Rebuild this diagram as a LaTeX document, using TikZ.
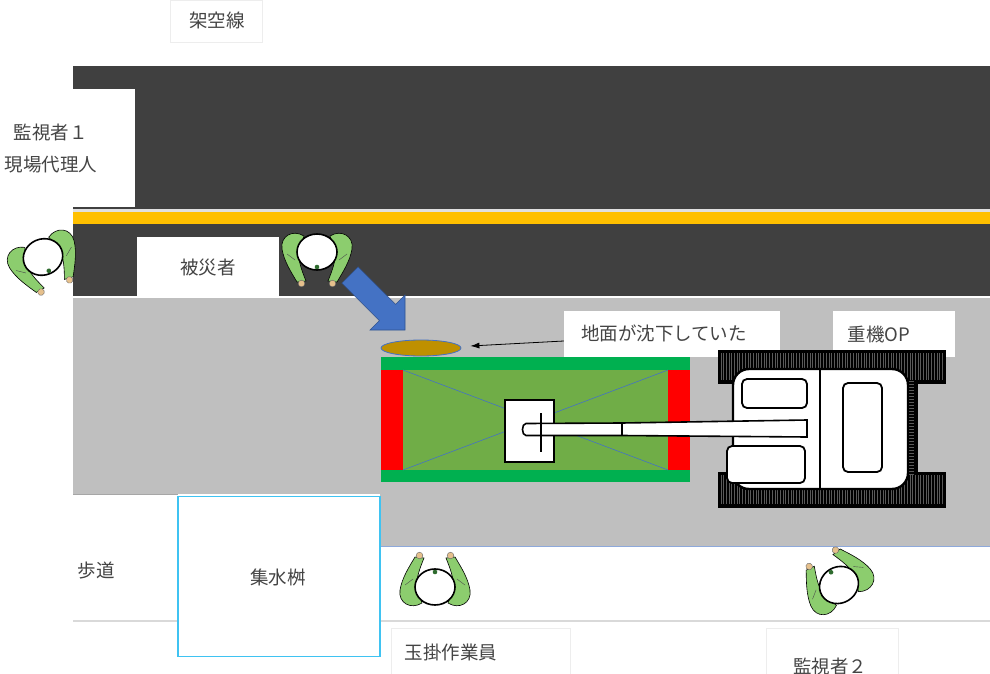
\documentclass[tikz,border=0pt]{standalone}
\usepackage{fontspec}
\setmainfont{Noto Sans CJK JP}
\usetikzlibrary{arrows.meta,shapes.geometric}

\definecolor{roaddark}{HTML}{404040}
\definecolor{centerline}{HTML}{FFC000}
\definecolor{paving}{HTML}{BFBFBF}
\definecolor{matgreen}{HTML}{70AD47}
\definecolor{bargreen}{HTML}{00B050}
\definecolor{matred}{HTML}{FF0000}
\definecolor{officeblue}{HTML}{4472C4}
\definecolor{officeblueedge}{HTML}{2F528F}
\definecolor{sinkgold}{HTML}{BF9000}
\definecolor{pitcyan}{HTML}{3FC3F2}
\definecolor{txtgray}{HTML}{444444}
\definecolor{faint}{HTML}{EDEDED}
\definecolor{vestgreen}{HTML}{8CCD6E}
\definecolor{skin}{HTML}{E6C08C}
\definecolor{capgreen}{HTML}{2E6B2E}
\definecolor{trackstripe}{HTML}{5A5A5A}
\definecolor{edgeblue}{HTML}{8EA9DB}

\tikzset{
  lbl/.style={text=txtgray, font=\fontsize{18.5}{22}\selectfont, inner sep=0pt},
  whitebox/.style={fill=white, draw=none, inner sep=0pt},
  faintbox/.style={fill=white, draw=faint, line width=0.8pt, inner sep=0pt},
  arm/.style={fill=vestgreen, draw=black, line width=0.6pt},
  track/.style={fill=black, draw=black, line width=1pt},
  cabpart/.style={fill=white, draw=black, line width=1.8pt, rounded corners=5pt},
  worker/.pic={
    % arms seen from above, then hands, then the helmet
    \path[arm] (-13,-16) .. controls (-24,-23) and (-37,-16) .. (-35,-3)
      .. controls (-33,9) and (-26,20) .. (-20,30) -- (-11,29)
      .. controls (-15,19) and (-19,9) .. (-18,0) -- cycle;
    \path[arm] (13,-16) .. controls (24,-23) and (37,-16) .. (35,-3)
      .. controls (33,9) and (26,20) .. (20,30) -- (11,29)
      .. controls (15,19) and (19,9) .. (18,0) -- cycle;
    \draw[black!70, line width=0.4pt] (-30,2) -- (-22,8) (30,2) -- (22,8);
    \filldraw[fill=skin, draw=black!60, line width=0.4pt] (-15.5,31.5) circle[radius=3.3];
    \filldraw[fill=skin, draw=black!60, line width=0.4pt] (15.5,31.5) circle[radius=3.3];
    \filldraw[fill=white, draw=black, line width=1.6pt] (0,0) ellipse [x radius=20, y radius=18];
    \fill[capgreen] (0,15) circle[radius=2.3];
  }
}

\begin{document}
\begin{tikzpicture}[x=1pt, y=-1pt]
\useasboundingbox (0,0) rectangle (990,674);
\fill[white] (0,0) rectangle (990,674);

% road surface
\fill[roaddark] (73,66) rectangle (990,296);
\fill[white!88!black] (73,208.5) rectangle (990,212);
\fill[centerline] (73,212) rectangle (990,224);

% work area and sidewalk
\fill[paving] (73,298) rectangle (990,546);
\draw[edgeblue, line width=0.8pt] (380,546) -- (990,546);
\fill[white] (73,494) rectangle (380,621);
\draw[black!35, line width=1pt] (73,494.5) -- (178,494.5);
\draw[black!15, line width=2pt] (73,621) -- (990,621);

% boxes and labels
\node[faintbox, minimum width=92pt, minimum height=42pt] (overhead) at (216,21) {};
\node[lbl] (overheadtxt) at (217,20) {架空線};
\node[whitebox, minimum width=135pt, minimum height=118pt] (watch1box) at (67.5,148) {};
\node[lbl, align=center, font=\fontsize{18.5}{32}\selectfont] (watch1txt) at (51,149) {監視者１\\現場代理人};
\node[whitebox, minimum width=142pt, minimum height=60pt] (victimbox) at (208,267) {};
\node[lbl] (victimtxt) at (208,268) {被災者};
\node[whitebox, minimum width=216pt, minimum height=46pt] (sinklabel) at (672,334) {};
\node[lbl] (sinktxt) at (664,333) {地面が沈下していた};
\node[whitebox, minimum width=122pt, minimum height=46pt] (opbox) at (894,334) {};
\node[lbl] (optxt) at (879,334) {重機OP};
\node[lbl] (walktxt) at (96,571) {歩道};
\node[fill=white, draw=pitcyan, line width=1.8pt, minimum width=202pt, minimum height=160pt, inner sep=0pt] (pit) at (279,576.5) {};
\node[lbl] (pittxt) at (278,577) {集水桝};
\node[faintbox, minimum width=179pt, minimum height=80pt] (riggerbox) at (480.5,668) {};
\node[lbl] (riggertxt) at (451,652) {玉掛作業員};
\node[faintbox, minimum width=132pt, minimum height=80pt] (watch2box) at (832,668) {};
\node[lbl] (watch2txt) at (830,666) {監視者２};

% sunken ground and the pointer to it
\node[ellipse, fill=sinkgold, draw=officeblue, line width=0.8pt, minimum width=80pt, minimum height=16pt, inner sep=0pt] (sink) at (421,348) {};
\draw[-{Latex[length=9pt,width=6pt]}, line width=0.8pt] ([yshift=-7pt]sinklabel.west) -- ([xshift=9pt,yshift=2pt]sink.east);

% outrigger mat
\fill[bargreen] (381,357) rectangle (690,370);
\fill[bargreen] (381,470) rectangle (690,482);
\fill[matred] (381,370) rectangle (403,470);
\fill[matred] (668,370) rectangle (690,470);
\fill[matgreen] (403,370) rectangle (668,470);
\draw[officeblue, line width=0.6pt] (403,370) -- (668,470) (403,470) -- (668,370);

% crawler tracks
\path[track] (718,350) rectangle (945,383);
\path[track] (718,472) rectangle (945,507);
\path[track] (903,378) rectangle (917,476);
\foreach \sx in {721,723.7,...,943} {
  \draw[trackstripe, line width=1pt] (\sx,353) -- (\sx,380);
  \draw[trackstripe, line width=1pt] (\sx,475) -- (\sx,504);
}
\foreach \sy in {381,384,...,474} \draw[trackstripe, line width=1pt] (906,\sy) -- (914,\sy);

% upper structure
\draw[fill=white, line width=2.4pt, rounded corners=16pt] (733,369) rectangle (908,489);
\draw[line width=1.8pt] (820,369) -- (820,489);
\draw[cabpart] (742,379) rectangle (807,408);
\draw[cabpart] (727,446) rectangle (805,483);
\draw[cabpart] (843,383) rectangle (882,472);

% attachment and boom
\draw[fill=white, line width=2.4pt] (505,400) rectangle (554,462);
\draw[fill=white, line width=1.6pt] (526,423.5) -- (622,423) -- (807,420) -- (807,437) -- (622,435.5) -- (526,435.5) to[out=180,in=180] (526,423.5) -- cycle;
\draw[line width=1.2pt] (622,423) -- (622,435.5);
\draw[line width=1.6pt] (541,413) -- (541,452);

% workers
\pic (worker1) [rotate=23] at (43,257) {worker};
\pic (victim) at (317,252) {worker};
\pic (rigger) [rotate=180] at (435,587) {worker};
\pic (worker2) [rotate=-148] at (839,585) {worker};

% fall direction
\filldraw[fill=officeblue, draw=officeblueedge, line width=0.6pt]
  (358.1,266.9) -- (395.6,304.4) -- (405,295) -- (405,330) -- (370,330) -- (379.4,320.6) -- (341.9,283.1) -- cycle;
\end{tikzpicture}
\end{document}
